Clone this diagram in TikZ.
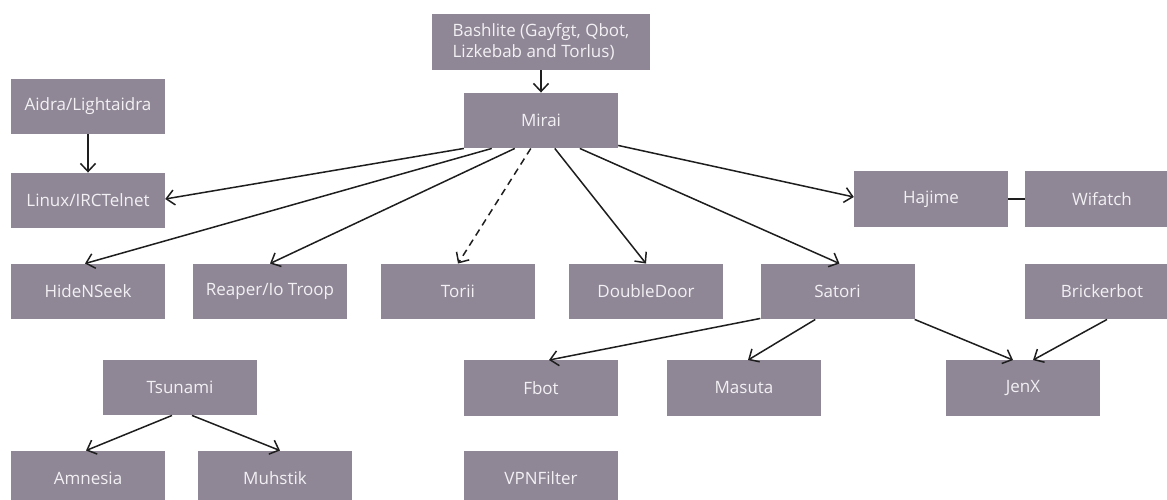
\documentclass[tikz,border=0pt]{standalone}
\usepackage{fontspec}
\setmainfont{Open Sans}
\usetikzlibrary{arrows.meta,calc}
\definecolor{boxfill}{HTML}{8F8795}
\definecolor{boxtext}{HTML}{F2F0F4}
\definecolor{linecol}{HTML}{1E1E1E}
\tikzset{
  box/.style={fill=boxfill, draw=none, text=boxtext, minimum width=154pt, minimum height=55.5pt,
    inner sep=0pt, font=\fontsize{17}{21.5}\selectfont, align=center},
  link/.style={draw=linecol, line width=1.5pt, -{Straight Barb[length=8pt,width=15pt,line width=1.5pt]}},
  plain/.style={draw=linecol, line width=1.5pt},
  dashlink/.style={link, dash pattern=on 7pt off 5pt}
}
\begin{document}
\begin{tikzpicture}[x=1pt,y=-1pt]
\useasboundingbox (0,0) rectangle (1167,500);
\clip (0,0) rectangle (1167,500);
\fill[white] (0,0) rectangle (1167,500);
% nodes
\node[box, minimum width=218pt, minimum height=56pt, align=left] (bash) at (541,42) {Bashlite (Gayfgt, Qbot,\\Lizkebab and Torlus)};
\node[box] (mirai) at (541,120.5) {Mirai};
\node[box] (aidra) at (88,106.5) {Aidra/Lightaidra};
\node[box] (linux) at (88,200.5) {Linux/IRCTelnet};
\node[box] (hajime) at (931,199) {Hajime};
\node[box] (wifatch) at (1102,199) {Wifatch};
\node[box] (hide) at (88,291.5) {HideNSeek};
\node[box] (reaper) at (270,291.5) {Reaper/Io Troop};
\node[box] (torii) at (458,291.5) {Torii};
\node[box] (ddoor) at (646,291.5) {DoubleDoor};
\node[box] (satori) at (837.5,291.5) {Satori};
\node[box] (brick) at (1102,291.5) {Brickerbot};
\node[box] (tsunami) at (180,387.5) {Tsunami};
\node[box] (fbot) at (541,388) {Fbot};
\node[box] (masuta) at (744,388) {Masuta};
\node[box] (jenx) at (1023,388) {JenX};
\node[box] (amnesia) at (88,478.5) {Amnesia};
\node[box] (muhstik) at (275,478.5) {Muhstik};
\node[box] (vpn) at (541,478.5) {VPNFilter};
% connectors
\draw[link] (bash.south) -- (mirai.north);
\draw[link] (aidra.south) -- (linux.north);
\draw[link] (mirai.south west) -- ([yshift=1.5pt]linux.east);
\draw[link] ([xshift=28pt]mirai.south west) -- ([xshift=-3pt]hide.north);
\draw[link] ([xshift=51pt]mirai.south west) -- (reaper.north);
\draw[dashlink] ([xshift=67pt]mirai.south west) -- (torii.north);
\draw[link] ([xshift=91pt]mirai.south west) -- (ddoor.north);
\draw[link] ([xshift=116pt]mirai.south west) -- ([xshift=2pt]satori.north);
\draw[link] ([yshift=3pt]mirai.south east) -- ([yshift=2pt]hajime.west);
\draw[plain] (hajime.east) -- (wifatch.west);
\draw[link] ([yshift=1pt]satori.south west) -- ([xshift=8pt]fbot.north);
\draw[link] ([xshift=55pt]satori.south west) -- ([xshift=4pt]masuta.north);
\draw[link] (satori.south east) -- ([xshift=-10pt]jenx.north);
\draw[link] ([xshift=5pt]brick.south) -- ([xshift=10pt]jenx.north);
\draw[link] ([xshift=-8pt]tsunami.south) -- ([xshift=-2pt]amnesia.north);
\draw[link] ([xshift=12pt]tsunami.south) -- ([xshift=5pt]muhstik.north);
\end{tikzpicture}
\end{document}
